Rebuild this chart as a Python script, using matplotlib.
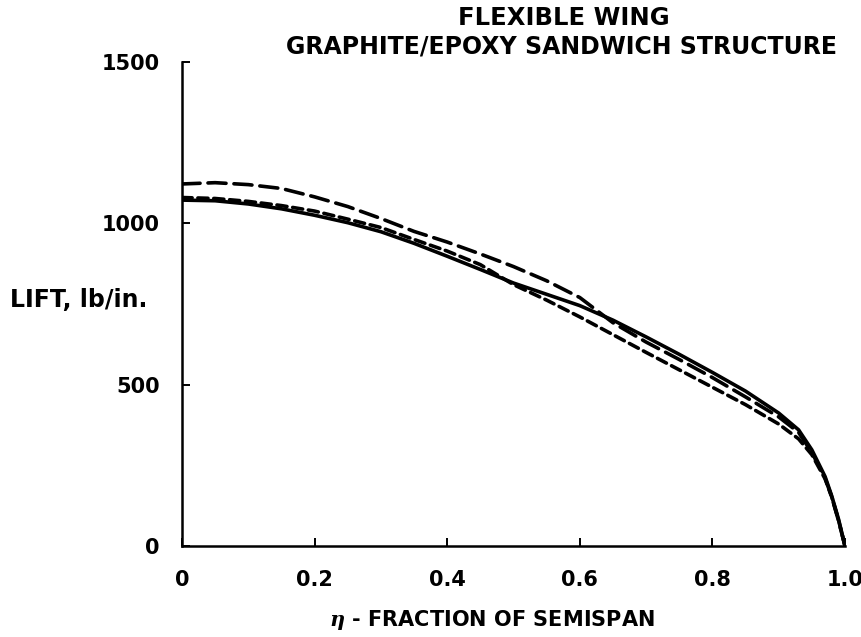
import numpy as np
import matplotlib
matplotlib.use("Agg")
import matplotlib.pyplot as plt

# spanwise stations (fraction of semispan)
eta = [0, 0.05, 0.1, 0.15, 0.2, 0.25, 0.3, 0.35, 0.4, 0.45, 0.5, 0.55, 0.6,
       0.65, 0.7, 0.75, 0.8, 0.85, 0.9, 0.93, 0.95, 0.97, 0.98, 0.99, 1.0]

# lift, lb/in.
lift_solid = [1072, 1070, 1060, 1045, 1025, 1002, 974, 938, 898, 857, 815, 780, 745,
              700, 648, 594, 538, 480, 412, 360, 298, 215, 155, 85, 0]
lift_long = [1122, 1126, 1120, 1108, 1082, 1052, 1015, 975, 942, 905, 866, 822, 770,
             692, 632, 578, 522, 462, 400, 352, 290, 210, 152, 80, 0]
lift_short = [1080, 1077, 1068, 1055, 1038, 1013, 987, 950, 914, 872, 810, 762, 710,
              655, 600, 546, 492, 438, 378, 332, 283, 208, 152, 82, 0]

xticks = [0, 0.2, 0.4, 0.6, 0.8, 1.0]
xtick_labels = ["0", "0.2", "0.4", "0.6", "0.8", "1.0"]
yticks = [0, 500, 1000, 1500]

plt.rcParams['font.family'] = ['DejaVu Sans']
plt.rcParams['font.weight'] = 'bold'
plt.rcParams['mathtext.fontset'] = 'dejavuserif'

fig = plt.figure(figsize=(8.62, 6.37), dpi=100)
ax = fig.add_axes([182 / 862, 1 - 546 / 637, 663 / 862, 484 / 637])

lw = 2.6
ax.plot(eta, lift_solid, color='black', lw=lw, solid_capstyle='round',
        solid_joinstyle='round')
ax.plot(eta, lift_long, color='black', lw=lw, dashes=(5.0, 2.2), dash_capstyle='round')
ax.plot(eta, lift_short, color='black', lw=lw, dashes=(2.8, 1.6), dash_capstyle='round')

ax.set_xlim(0, 1.0)
ax.set_ylim(0, 1500)
ax.spines['top'].set_visible(False)
ax.spines['right'].set_visible(False)
for s in ['left', 'bottom']:
    ax.spines[s].set_linewidth(1.8)

ax.set_xticks(xticks)
ax.set_xticklabels(xtick_labels)
ax.set_yticks(yticks)
ax.tick_params(direction='in', length=6, width=1.4, labelsize=15, pad=17)
ax.tick_params(axis='y', pad=16)
for lab in ax.get_xticklabels() + ax.get_yticklabels():
    lab.set_fontweight('bold')
ax.get_xticklabels()[-1].set_ha('center')

fig.text(10 / 862, 1 - 300 / 637, "LIFT, lb/in.", fontsize=17, fontweight='bold',
         ha='left', va='center')
fig.text(492 / 862, 1 - 620 / 637, r"$\eta$ - FRACTION OF SEMISPAN", fontsize=15,
         fontweight='bold', ha='center', va='center')
fig.text(564 / 862, 1 - 18 / 637, "FLEXIBLE WING", fontsize=17.5, fontweight='bold',
         ha='center', va='center')
fig.text(562 / 862, 1 - 47 / 637, "GRAPHITE/EPOXY SANDWICH STRUCTURE", fontsize=17,
         fontweight='bold', ha='center', va='center')

fig.savefig("out.png", dpi=100)
